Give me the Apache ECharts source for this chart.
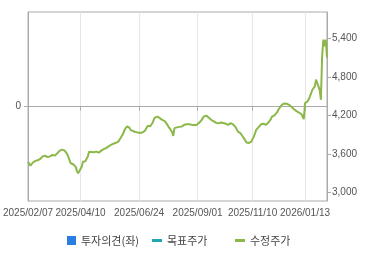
<!DOCTYPE html>
<html><head><meta charset="utf-8">
<script src="https://cdn.jsdelivr.net/npm/echarts@6/dist/echarts.min.js"></script>
<style>html,body{margin:0;padding:0;background:#fff}#c{width:370px;height:255px}</style>
</head><body><div id="c"></div>
<script>
// Tick labels on the date axis
const tickDates = ['2025/02/07','2025/04/10','2025/06/24','2025/09/01','2025/11/10','2026/01/13'];
// Korean market holidays in range (trading calendar)
const holidays = ['2025/03/03','2025/05/01','2025/05/05','2025/05/06','2025/06/03','2025/06/06','2025/08/15','2025/10/03','2025/10/06','2025/10/07','2025/10/08','2025/10/09','2025/12/25','2025/12/31','2026/01/01'];
// Right axis tick labels
const priceTicks = [3000, 3600, 4200, 4800, 5400];
// 수정주가 (adjusted price), one value per trading day
const adjPrice = [
3478,3450,3416,3440,3465,3478,3490,3485,3500,3512,
3520,3530,3560,3583,3570,3556,3550,3547,3560,3575,
3583,3590,3572,3585,3610,3635,3650,3658,3665,3661,
3650,3634,3600,3556,3500,3453,3445,3438,3430,3400,
3338,3297,3330,3359,3400,3478,3470,3485,3494,3560,
3634,3620,3630,3619,3625,3640,3634,3628,3619,3640,
3650,3661,3672,3680,3690,3703,3715,3728,3739,3748,
3758,3766,3772,3782,3790,3820,3850,3880,3915,3970,
4000,4025,4047,4010,3973,3965,3955,3947,3940,3936,
3931,3928,3925,3922,3935,3950,3963,4000,4036,4030,
4028,4025,4080,4130,4165,4192,4180,4170,4156,4140,
4128,4119,4110,4103,4060,4025,4000,3973,3940,3880,
4000,4005,4012,4016,4020,4022,4025,4038,4052,4058,
4060,4063,4060,4056,4053,4052,4050,4055,4050,4052,
4080,4100,4119,4150,4180,4208,4195,4181,4165,4145,
4130,4120,4110,4103,4085,4067,4075,4082,4088,4083,
4080,4078,4070,4060,4052,4065,4078,4068,4058,4052,
4020,3980,3947,3935,3922,3895,3870,3844,3810,3775,
3766,3770,3780,3790,3830,3869,3920,3973,3995,4016,
4040,4060,4078,4070,4060,4052,4070,4088,4103,4140,
4181,4190,4200,4208,4245,4280,4313,4340,4364,4375,
4385,4391,4380,4372,4364,4345,4330,4313,4295,4275,
4265,4255,4244,4260,4220,4181,4141,4391,4400,4416,
4450,4494,4545,4598,4625,4650,4755,4702,4650,4598,
4442,5119,5380,5275,5380,5100
];
// 목표주가 (target price) - none shown
const targetPrice = [];
// 투자의견 (investment opinion) - none shown
const opinion = [];

// Build trading-day categories (weekdays minus holidays)
const dates = [];
(function(){
  const d = new Date(2025, 1, 7);
  const hs = new Set(holidays);
  const pad = n => (n < 10 ? '0' : '') + n;
  while (dates.length < adjPrice.length) {
    const wd = d.getDay();
    const s = d.getFullYear() + '/' + pad(d.getMonth() + 1) + '/' + pad(d.getDate());
    if (wd !== 0 && wd !== 6 && !hs.has(s)) dates.push(s);
    d.setDate(d.getDate() + 1);
  }
})();
const tickSet = new Set(tickDates);
const isTick = (i, v) => tickSet.has(v);

const axisFont = { fontFamily: 'Liberation Sans, Arial, sans-serif', fontSize: 10, color: '#555' };
const legendText = { fontFamily: 'Noto Sans CJK KR, sans-serif', fontSize: 11, color: '#444' };
const lineIcon = 'path://M0,0H10V3H0Z';

const chart = echarts.init(document.getElementById('c'), null, { renderer: 'canvas' });
chart.setOption({
  animation: false,
  grid: { left: 26, right: 43, top: 12, bottom: 54, show: true, borderColor: '#aaa', borderWidth: 1, containLabel: false },
  legend: [
    { data: [{ name: '투자의견(좌)', icon: 'rect' }], left: 62, top: 230, itemWidth: 9, itemHeight: 9, itemGap: 0, selectedMode: false, textStyle: legendText },
    { data: [{ name: '목표주가', icon: lineIcon }], left: 147, top: 230, itemWidth: 10, itemHeight: 3, selectedMode: false, textStyle: legendText },
    { data: [{ name: '수정주가', icon: lineIcon }], left: 230, top: 230, itemWidth: 10, itemHeight: 3, selectedMode: false, textStyle: legendText }
  ],
  xAxis: {
    type: 'category', data: dates, boundaryGap: false,
    axisLine: { lineStyle: { color: '#aaa' } },
    axisTick: { show: true, interval: isTick, length: 4, lineStyle: { color: '#aaa' } },
    axisLabel: { interval: isTick, margin: 7, hideOverlap: false, showMinLabel: true, showMaxLabel: true, ...axisFont },
    splitLine: { show: true, interval: isTick, lineStyle: { color: '#e6e6e6' } }
  },
  yAxis: [
    {
      type: 'value', position: 'left', min: -1, max: 1, interval: 1,
      axisLine: { show: true, lineStyle: { color: '#aaa' } },
      axisTick: { show: true, length: 4, customValues: [0], lineStyle: { color: '#aaa' } },
      axisLabel: { customValues: [0], margin: 7, ...axisFont },
      splitLine: { show: true, lineStyle: { color: '#e6e6e6' } }
    },
    {
      type: 'value', position: 'right', min: 2865, max: 5810,
      axisLine: { show: true, lineStyle: { color: '#aaa' } },
      axisTick: { show: true, length: 4, customValues: priceTicks, lineStyle: { color: '#aaa' } },
      axisLabel: { customValues: priceTicks, margin: 5, formatter: v => v.toLocaleString('en-US'), ...axisFont },
      splitLine: { show: false }
    }
  ],
  series: [
    { name: '투자의견(좌)', type: 'bar', yAxisIndex: 0, data: opinion, itemStyle: { color: '#2a7de1' } },
    { name: '목표주가', type: 'line', yAxisIndex: 1, data: targetPrice, showSymbol: false, itemStyle: { color: '#1fa8b3' }, lineStyle: { color: '#1fa8b3', width: 2 } },
    { name: '수정주가', type: 'line', yAxisIndex: 1, data: adjPrice, showSymbol: false, symbol: 'none', itemStyle: { color: '#8cb84a' }, lineStyle: { color: '#8cb84a', width: 2 } }
  ]
});
</script></body></html>
